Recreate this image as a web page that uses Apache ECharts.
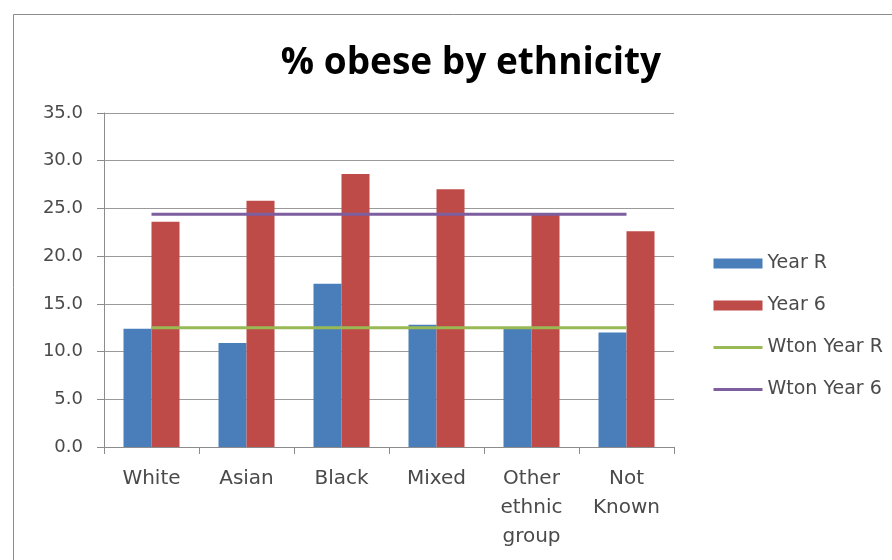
<!DOCTYPE html>
<html>
<head>
<meta charset="utf-8">
<script src="https://cdn.jsdelivr.net/npm/echarts@6/dist/echarts.min.js"></script>
<style>
  html, body { margin: 0; padding: 0; background: #fff; }
  #chart-container { width: 892px; height: 560px; }
</style>
</head>
<body>
<div id="chart-container"></div>
<script>
// data
var categories = ['White', 'Asian', 'Black', 'Mixed', 'Other\nethnic\ngroup', 'Not\nKnown'];
var yearR = [12.4, 10.9, 17.1, 12.8, 12.4, 12.0];
var year6 = [23.6, 25.8, 28.6, 27.0, 24.4, 22.6];
var wtonYearR = [12.5, 12.5, 12.5, 12.5, 12.5, 12.5];
var wtonYear6 = [24.4, 24.4, 24.4, 24.4, 24.4, 24.4];

var dom = document.getElementById('chart-container');
var myChart = echarts.init(dom, null, { renderer: 'canvas' });

var labelFont = 'DejaVu Sans';
var labelColor = '#4a4a4a';

// line entries in the legend: hide the marker, keep only the stroke
var noMarker = { color: 'rgba(0,0,0,0)', borderWidth: 0 };

var option = {
  backgroundColor: '#fff',
  animation: false,
  title: {
    text: '% obese by ethnicity',
    left: 466,
    top: 40,
    textAlign: 'center',
    textStyle: {
      fontFamily: 'Open Sans',
      fontWeight: 'bold',
      fontSize: 37,
      color: '#000'
    }
  },
  // outer chart frame (right/bottom edges run off the page)
  graphic: [{
    type: 'rect',
    shape: { x: 13.5, y: 14.5, width: 920, height: 600 },
    style: { fill: 'none', stroke: '#8c8c8c', lineWidth: 1 },
    silent: true
  }],
  legend: {
    orient: 'vertical',
    left: 712,
    top: 254,
    padding: 0,
    itemWidth: 49,
    itemHeight: 10,
    itemGap: 23,
    textStyle: { fontFamily: labelFont, fontSize: 19, color: labelColor },
    data: [
      { name: 'Year R', icon: 'rect' },
      { name: 'Year 6', icon: 'rect' },
      { name: 'Wton Year R', itemStyle: noMarker, lineStyle: { width: 3 } },
      { name: 'Wton Year 6', itemStyle: noMarker, lineStyle: { width: 3 } }
    ]
  },
  grid: {
    left: 104,
    right: 218,
    top: 113,
    bottom: 113,
    containLabel: false
  },
  xAxis: {
    type: 'category',
    data: categories,
    axisLine: { lineStyle: { color: '#8c8c8c' } },
    axisTick: { show: true, length: 7, lineStyle: { color: '#8c8c8c' } },
    axisLabel: {
      fontFamily: labelFont,
      fontSize: 20,
      color: labelColor,
      lineHeight: 29,
      margin: 17,
      interval: 0
    }
  },
  yAxis: {
    type: 'value',
    min: 0,
    max: 35,
    interval: 5,
    axisLine: { show: true, lineStyle: { color: '#8c8c8c' } },
    axisTick: { show: true, length: 7, lineStyle: { color: '#8c8c8c' } },
    splitLine: { lineStyle: { color: '#9a9a9a' } },
    axisLabel: {
      fontFamily: labelFont,
      fontSize: 18,
      color: labelColor,
      margin: 21,
      formatter: function (v) { return v.toFixed(1); }
    }
  },
  series: [
    {
      name: 'Year R',
      type: 'bar',
      data: yearR,
      barWidth: 28,
      barGap: '0%',
      itemStyle: { color: '#4a7ebb' }
    },
    {
      name: 'Year 6',
      type: 'bar',
      data: year6,
      barWidth: 28,
      barGap: '0%',
      itemStyle: { color: '#be4b48' }
    },
    {
      name: 'Wton Year R',
      type: 'line',
      data: wtonYearR,
      symbol: 'none',
      z: 5,
      lineStyle: { color: '#98b954', width: 3 },
      itemStyle: { color: '#98b954' }
    },
    {
      name: 'Wton Year 6',
      type: 'line',
      data: wtonYear6,
      symbol: 'none',
      z: 5,
      lineStyle: { color: '#7d5fa0', width: 3 },
      itemStyle: { color: '#7d5fa0' }
    }
  ]
};

myChart.setOption(option);
window.addEventListener('resize', myChart.resize);
</script>
</body>
</html>
